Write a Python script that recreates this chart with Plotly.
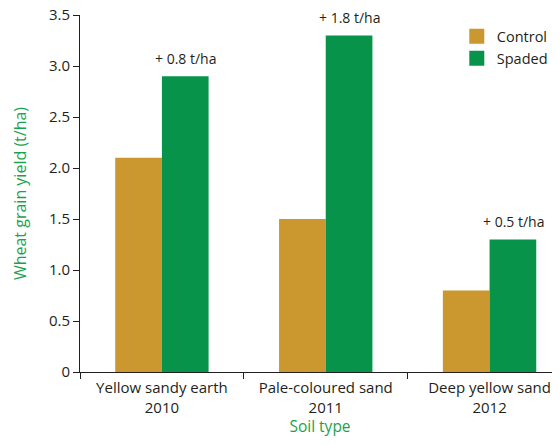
import plotly.graph_objects as go

categories = ["Yellow sandy earth<br>2010", "Pale-coloured sand<br>2011", "Deep yellow sand<br>2012"]
control = [2.1, 1.5, 0.8]
spaded = [2.9, 3.3, 1.3]
gain_labels = ["+ 0.8 t/ha", "+ 1.8 t/ha", "+ 0.5 t/ha"]
y_tickvals = [0, 0.5, 1.0, 1.5, 2.0, 2.5, 3.0, 3.5]
y_ticktext = ["0", "0.5", "1.0", "1.5", "2.0", "2.5", "3.0", "3.5"]

GOLD = "#CA982F"
GREEN = "#07944A"
TEXT = "#231F20"
TITLE_GREEN = "#1BA24C"
FONT = "Open Sans"

fig = go.Figure()
fig.add_trace(go.Bar(name="Control", x=categories, y=control, marker_color=GOLD,
                     marker_line_width=0, showlegend=False))
fig.add_trace(go.Bar(name="Spaded", x=categories, y=spaded, marker_color=GREEN,
                     marker_line_width=0, showlegend=False))
# legend swatches
fig.add_trace(go.Scatter(name="Control", x=[None], y=[None], mode="markers",
                         marker=dict(symbol="square", size=15, color=GOLD)))
fig.add_trace(go.Scatter(name="Spaded", x=[None], y=[None], mode="markers",
                         marker=dict(symbol="square", size=15, color=GREEN)))

for cat, val, lab in zip(categories, spaded, gain_labels):
    fig.add_annotation(x=cat, y=val, text=lab, showarrow=False, xshift=24, yshift=6,
                       yanchor="bottom", font=dict(size=14, color=TEXT, family=FONT))

# page body has an 8px margin, so the figure is drawn smaller and offset
fig.update_layout(
    width=552, height=429,
    margin=dict(l=72, r=0, t=7, b=65, autoexpand=False),
    paper_bgcolor="white", plot_bgcolor="white",
    barmode="group", bargap=0.43, bargroupgap=0,
    font=dict(family=FONT, color=TEXT, size=14),
    legend=dict(x=0.785, y=0.985, xanchor="left", yanchor="top",
                font=dict(size=14.5, color=TEXT, family=FONT), bgcolor="rgba(0,0,0,0)",
                itemwidth=30, tracegroupgap=0),
    showlegend=True,
)
fig.update_xaxes(
    range=[-0.5, 2.43], showline=True, linecolor=TEXT, linewidth=1,
    ticks="outside", tickson="boundaries", ticklen=6, tickcolor=TEXT,
    tickfont=dict(size=15, color=TEXT, family=FONT), showgrid=False, automargin=False,
    ticklabeloverflow="allow", ticklabelstandoff=2,
    title=dict(text="Soil type", font=dict(size=15.5, color=TITLE_GREEN, family=FONT), standoff=6),
)
fig.update_yaxes(
    range=[0, 3.5], tickvals=y_tickvals, ticktext=y_ticktext,
    showline=True, linecolor=TEXT, linewidth=1, ticks="outside", ticklen=6,
    tickcolor=TEXT, tickfont=dict(size=15, color=TEXT, family=FONT), showgrid=False,
    zeroline=False, automargin=False, ticklabeloverflow="allow",
    title=dict(text="Wheat grain yield (t/ha)", font=dict(size=16, color=TITLE_GREEN, family=FONT), standoff=18),
)

fig.write_html("out.html")
